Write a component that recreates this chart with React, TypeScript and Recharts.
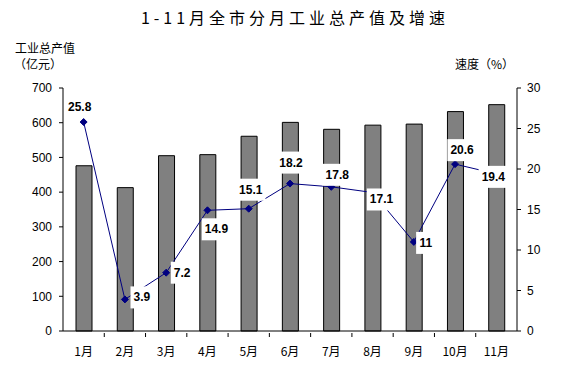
import React from 'react';
import {
  ComposedChart,
  Bar,
  Line,
  XAxis,
  YAxis,
  LabelList,
} from 'recharts';

const months = ['1月', '2月', '3月', '4月', '5月', '6月', '7月', '8月', '9月', '10月', '11月'];
const output = [476, 413, 505, 508, 561, 601, 581, 593, 596, 632, 652];
const growth = [25.8, 3.9, 7.2, 14.9, 15.1, 18.2, 17.8, 17.1, 11, 20.6, 19.4];
const leftTicks = [0, 100, 200, 300, 400, 500, 600, 700];
const rightTicks = [0, 5, 10, 15, 20, 25, 30];
// where each growth label sits relative to its point
const labelOffsets = [
  [-4, -15], [17, -2], [16, 0], [9, 19], [2, -19], [1, -21],
  [6, -12], [9, 7], [12, 1], [7, -14], [-3, 3],
];

const data = months.map((m, i) => ({ month: m, output: output[i], growth: growth[i] }));

const W = 566;
const H = 387;
const M = { top: 88, right: 0, bottom: 26, left: 0 };
const LEFT_W = 63;
const RIGHT_W = 49;
const BAND = (W - LEFT_W - RIGHT_W) / months.length;

const cjk = '"Noto Sans CJK SC", "Noto Sans CJK JP", sans-serif';
const latin = '"Liberation Sans", Arial, sans-serif';

function MonthTick({ x, y, payload, index }: any) {
  return (
    <g>
      {index > 0 && (
        <line x1={x - BAND / 2} x2={x - BAND / 2} y1={y} y2={y - 4} stroke="#000" />
      )}
      <text x={x} y={y + 19} textAnchor="middle" fontSize={12} fontFamily={cjk} fill="#000">
        {payload.value}
      </text>
    </g>
  );
}

function Diamond({ cx, cy }: any) {
  if (cx == null || cy == null) return null;
  const r = 3.5;
  return (
    <polygon
      points={`${cx},${cy - r} ${cx + r},${cy} ${cx},${cy + r} ${cx - r},${cy}`}
      fill="#000080"
      stroke="#000080"
    />
  );
}

function textWidth(s: string) {
  let w = 0;
  for (const c of s) w += c === '.' ? 3.4 : 6.7;
  return w;
}

function GrowthLabel({ x, y, value, index }: any) {
  const [dx, dy] = labelOffsets[index] || [0, -14];
  const s = String(value);
  const w = textWidth(s) + 6;
  const cx = x + dx;
  const cy = y + dy;
  return (
    <g>
      <rect x={cx - w / 2} y={cy - 11} width={w} height={22} fill="#fff" />
      <text
        x={cx}
        y={cy}
        textAnchor="middle"
        dominantBaseline="central"
        fontSize={12}
        fontWeight="bold"
        fontFamily={latin}
        fill="#000"
      >
        {s}
      </text>
    </g>
  );
}

export default function App() {
  return (
    <div
      style={{
        position: 'absolute',
        left: 0,
        top: 0,
        width: W,
        height: H,
        background: '#fff',
      }}
    >
      <div
        style={{
          position: 'absolute',
          left: 0,
          width: W,
          top: 6,
          textAlign: 'center',
          paddingLeft: 12,
          fontFamily: cjk,
          fontSize: 16,
          letterSpacing: 4,
          lineHeight: '22px',
          color: '#000',
        }}
      >
        1-11月全市分月工业总产值及增速
      </div>
      <div style={{ position: 'absolute', left: 15, top: 40, fontFamily: cjk, fontSize: 12, lineHeight: '16px' }}>
        工业总产值
      </div>
      <div style={{ position: 'absolute', left: 14, top: 56, fontFamily: cjk, fontSize: 12, lineHeight: '16px' }}>
        （亿元）
      </div>
      <div style={{ position: 'absolute', left: 455, top: 56, fontFamily: cjk, fontSize: 12, lineHeight: '16px' }}>
        速度（%）
      </div>
      <ComposedChart width={W} height={H} data={data} margin={M}>
        <XAxis
          dataKey="month"
          xAxisId={0}
          height={30}
          tickLine={false}
          tickMargin={0}
          tick={<MonthTick />}
          axisLine={{ stroke: '#000' }}
          interval={0}
        />
        <YAxis
          yAxisId="left"
          width={LEFT_W}
          domain={[0, 700]}
          ticks={leftTicks}
          tickSize={4}
          tickMargin={7}
          axisLine={{ stroke: '#000' }}
          tickLine={{ stroke: '#000' }}
          tick={{ fill: '#000', fontSize: 12, fontFamily: latin }}
          interval={0}
        />
        <YAxis
          yAxisId="right"
          orientation="right"
          width={RIGHT_W}
          domain={[0, 30]}
          ticks={rightTicks}
          tickSize={4}
          tickMargin={6}
          axisLine={{ stroke: '#000' }}
          tickLine={{ stroke: '#000' }}
          tick={{ fill: '#000', fontSize: 12, fontFamily: latin, textAnchor: 'start' }}
          interval={0}
        />
        <Bar
          yAxisId="left"
          dataKey="output"
          barSize={16}
          fill="#808080"
          stroke="#000"
          strokeWidth={1}
          isAnimationActive={false}
        />
        <Line
          yAxisId="right"
          dataKey="growth"
          type="linear"
          stroke="#000080"
          strokeWidth={1}
          dot={<Diamond />}
          activeDot={false}
          isAnimationActive={false}
        >
          <LabelList dataKey="growth" content={<GrowthLabel />} />
        </Line>
      </ComposedChart>
    </div>
  );
}
